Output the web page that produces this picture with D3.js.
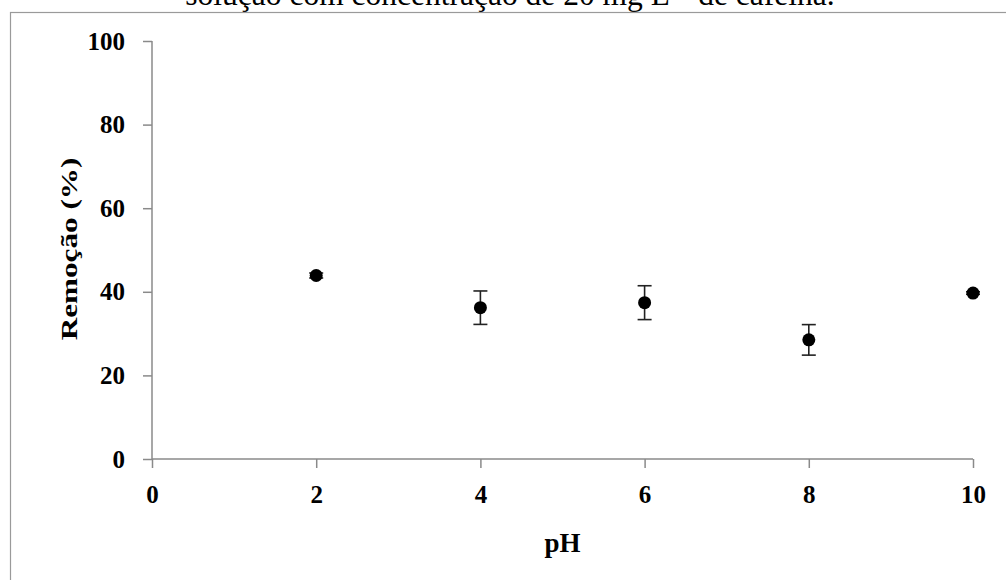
<!DOCTYPE html>
<html>
<head>
<meta charset="utf-8">
<script src="https://cdn.jsdelivr.net/npm/d3@7"></script>
<style>
  html, body { margin: 0; padding: 0; background: #fff; }
  svg { display: block; }
</style>
</head>
<body>
<svg id="chart" width="1006" height="580"></svg>
<script>
// Caffeine removal (%) versus solution pH, mean ± standard deviation
const phValues = [2, 4, 6, 8, 10];
const removal = [43.9, 36.2, 37.4, 28.5, 39.7];
const removalErr = [0.6, 4.0, 4.05, 3.65, 0.3];
const xTicks = [0, 2, 4, 6, 8, 10];
const yTicks = [0, 20, 40, 60, 80, 100];

const points = phValues.map((p, i) => ({ ph: p, value: removal[i], err: removalErr[i] }));

const svg = d3.select("#chart");
const serif = "'Liberation Serif', 'Times New Roman', serif";
const axisGrey = "#8a8a8a";

// Caption line above the chart frame (partly outside the page)
svg.append("text")
  .attr("x", 510)
  .attr("y", 4.5)
  .attr("text-anchor", "middle")
  .attr("font-family", serif)
  .attr("font-size", 31.5)
  .attr("fill", "#000")
  .text("solução com concentração de 20 mg L\u207B\u00B9 de cafeína.");

// Chart frame
svg.append("rect")
  .attr("x", 10.5)
  .attr("y", 12.5)
  .attr("width", 1010)
  .attr("height", 600)
  .attr("fill", "none")
  .attr("stroke", "#9a9a9a")
  .attr("stroke-width", 1.2);

const x = d3.scaleLinear().domain([0, 10]).range([152, 973]);
const y = d3.scaleLinear().domain([0, 100]).range([459, 41]);

// X axis
const gx = svg.append("g")
  .attr("transform", `translate(0,${y(0)})`)
  .call(d3.axisBottom(x).tickValues(xTicks).tickSize(9).tickPadding(17).tickFormat(d3.format("d")));

// Y axis
const gy = svg.append("g")
  .attr("transform", `translate(${x(0)},0)`)
  .call(d3.axisLeft(y).tickValues(yTicks).tickSize(9).tickPadding(18).tickFormat(d3.format("d")));

[gx, gy].forEach(g => {
  g.select(".domain").attr("stroke", axisGrey).attr("stroke-width", 1.5);
  g.selectAll(".tick line").attr("stroke", axisGrey).attr("stroke-width", 1.5);
  g.selectAll(".tick text")
    .attr("font-family", serif)
    .attr("font-size", 25)
    .attr("font-weight", "bold")
    .attr("fill", "#000");
});
// Excel-style axes: no end caps on the domain lines
gx.select(".domain").attr("d", `M${x(0)},0H${x(10)}`);
gy.select(".domain").attr("d", `M0,${y(0)}V${y(100)}`);
gx.selectAll(".tick text").attr("dy", "0.71em");

// Axis titles
svg.append("text")
  .attr("transform", `translate(77,249) rotate(-90) scale(1.3,1)`)
  .attr("text-anchor", "middle")
  .attr("font-family", serif)
  .attr("font-size", 24)
  .attr("font-weight", "bold")
  .attr("fill", "#000")
  .text("Remoção (%)");

svg.append("text")
  .attr("x", (x(0) + x(10)) / 2)
  .attr("y", 552)
  .attr("text-anchor", "middle")
  .attr("font-family", serif)
  .attr("font-size", 27)
  .attr("font-weight", "bold")
  .attr("fill", "#000")
  .text("pH");

// Error bars
const bars = svg.append("g").attr("stroke", "#222").attr("stroke-width", 1.6);
bars.selectAll("line.stem").data(points).join("line")
  .attr("class", "stem")
  .attr("x1", d => x(d.ph)).attr("x2", d => x(d.ph))
  .attr("y1", d => y(d.value - d.err)).attr("y2", d => y(d.value + d.err));
bars.selectAll("line.capTop").data(points).join("line")
  .attr("class", "capTop")
  .attr("x1", d => x(d.ph) - 7).attr("x2", d => x(d.ph) + 7)
  .attr("y1", d => y(d.value + d.err)).attr("y2", d => y(d.value + d.err));
bars.selectAll("line.capBot").data(points).join("line")
  .attr("class", "capBot")
  .attr("x1", d => x(d.ph) - 7).attr("x2", d => x(d.ph) + 7)
  .attr("y1", d => y(d.value - d.err)).attr("y2", d => y(d.value - d.err));

// Markers
svg.append("g").selectAll("circle").data(points).join("circle")
  .attr("cx", d => x(d.ph))
  .attr("cy", d => y(d.value))
  .attr("r", 6.5)
  .attr("fill", "#000");
</script>
</body>
</html>
